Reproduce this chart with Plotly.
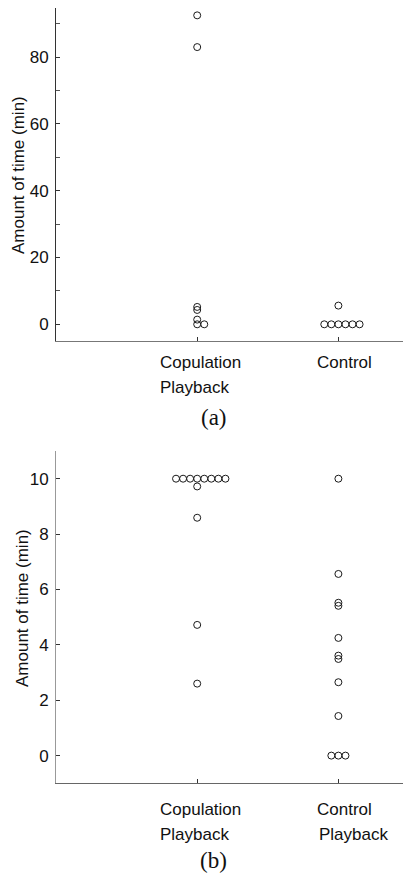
import plotly.graph_objects as go

# ---------------- data ----------------
categories = ["Copulation Playback", "Control"]
labels_a = [["Copulation", "Playback"], ["Control"]]
labels_b = [["Copulation", "Playback"], ["Control", "Playback"]]

a_copulation = [92.5, 83.0, 5.2, 4.3, 1.4, 0.0, 0.0]
a_control = [5.6, 0.0, 0.0, 0.0, 0.0, 0.0, 0.0]

b_copulation = [10.0, 10.0, 10.0, 10.0, 10.0, 10.0, 10.0, 10.0, 9.72, 8.59, 4.72, 2.6]
b_control = [10.0, 6.56, 5.52, 5.41, 4.25, 3.61, 3.49, 2.65, 1.43, 0.0, 0.0, 0.0]

ticks_a = [0, 20, 40, 60, 80]
ticks_b = [0, 2, 4, 6, 8, 10]
y_title = "Amount of time (min)"
captions = ["(a)", "(b)"]

# ---------------- helpers ----------------
PAGE_OFFSET = 8          # default body margin of the html page
W, H = 411 - PAGE_OFFSET, 881 - PAGE_OFFSET
DODGE = 0.05


def px_x(p):
    return (p - PAGE_OFFSET) / W


def px_y(p):
    return min(1.0, 1 - (p - PAGE_OFFSET) / H)


def dodge(values, center):
    """Spread exactly-equal values side by side (dot-plot style)."""
    xs = []
    seen = {}
    counts = {}
    for v in values:
        counts[v] = counts.get(v, 0) + 1
    for v in values:
        i = seen.get(v, 0)
        seen[v] = i + 1
        n = counts[v]
        xs.append(center + (i - (n - 1) // 2) * DODGE)
    return xs


marker = dict(symbol="circle-open", size=7, color="#1a1a1a", line=dict(width=1, color="#1a1a1a"))
FONT = "Liberation Sans, Arial, sans-serif"
SERIF = "Liberation Serif, Times New Roman, serif"

fig = go.Figure()

panels = [
    dict(vals=[a_copulation, a_control], xa="x", ya="y"),
    dict(vals=[b_copulation, b_control], xa="x2", ya="y2"),
]
for p in panels:
    for ci, vals in enumerate(p["vals"]):
        fig.add_trace(go.Scatter(
            x=dodge(vals, ci + 1), y=vals, mode="markers", marker=marker,
            xaxis=p["xa"], yaxis=p["ya"], showlegend=False, hoverinfo="y",
        ))

xdom = [px_x(56), min(1.0, px_x(409))]
common_x = dict(range=[0, 2.5], showgrid=False, zeroline=False, showline=True,
                linewidth=1, ticks="inside", ticklen=4, tickcolor="#333",
                tickvals=[1, 2], showticklabels=False, domain=xdom)
common_y = dict(showgrid=False, zeroline=False, showline=True, linewidth=1,
                ticks="inside", ticklen=4, tickcolor="#333",
                tickfont=dict(family=FONT, size=17, color="#111"),
                ticklabelstandoff=3)

fig.update_layout(
    width=W, height=H,
    margin=dict(l=0, r=0, t=0, b=0),
    plot_bgcolor="white", paper_bgcolor="white",
    xaxis=dict(**common_x, anchor="y", linecolor="#777"),
    yaxis=dict(**common_y, anchor="x", range=[-5, 94.7], tickvals=ticks_a,
               linecolor="#333",
               minor=dict(ticks="inside", ticklen=4, tick0=10, dtick=20, tickcolor="#555"),
               domain=[px_y(341), px_y(8)]),
    xaxis2=dict(**common_x, anchor="y2", linecolor="#666"),
    yaxis2=dict(**common_y, anchor="x2", range=[-1, 11], tickvals=ticks_b,
                linecolor="#999", domain=[px_y(783.3), px_y(451)]),
)

annotations = []
# category labels (left-aligned blocks under each tick)
label_rows = [
    (labels_a, [362, 387], "x"),
    (labels_b, [809.4, 834.4], "x2"),
]
label_shift = [[-39, -39], [-23, -21]]
for labels, rows, xref in label_rows:
    for ci, lines in enumerate(labels):
        for li, text in enumerate(lines):
            annotations.append(dict(
                x=ci + 1, xref=xref, y=px_y(rows[li]), yref="paper",
                text=text, showarrow=False, xanchor="left", yanchor="middle",
                xshift=label_shift[ci][li],
                font=dict(family=FONT, size=17, color="#111"),
            ))

# y-axis titles
for (cx, cy) in [(18, 175), (22, 608)]:
    annotations.append(dict(
        x=px_x(cx), xref="paper", y=px_y(cy), yref="paper", text=y_title,
        textangle=-90, showarrow=False, xanchor="center", yanchor="middle",
        font=dict(family=FONT, size=17, color="#111"),
    ))

# captions
for text, (cx, cy) in zip(captions, [(213.7, 417.5), (213.7, 860)]):
    annotations.append(dict(
        x=px_x(cx), xref="paper", y=px_y(cy), yref="paper", text=text,
        showarrow=False, xanchor="center", yanchor="middle",
        font=dict(family=SERIF, size=23, color="#111"),
    ))

fig.update_layout(annotations=annotations)
fig.write_html("out.html")
